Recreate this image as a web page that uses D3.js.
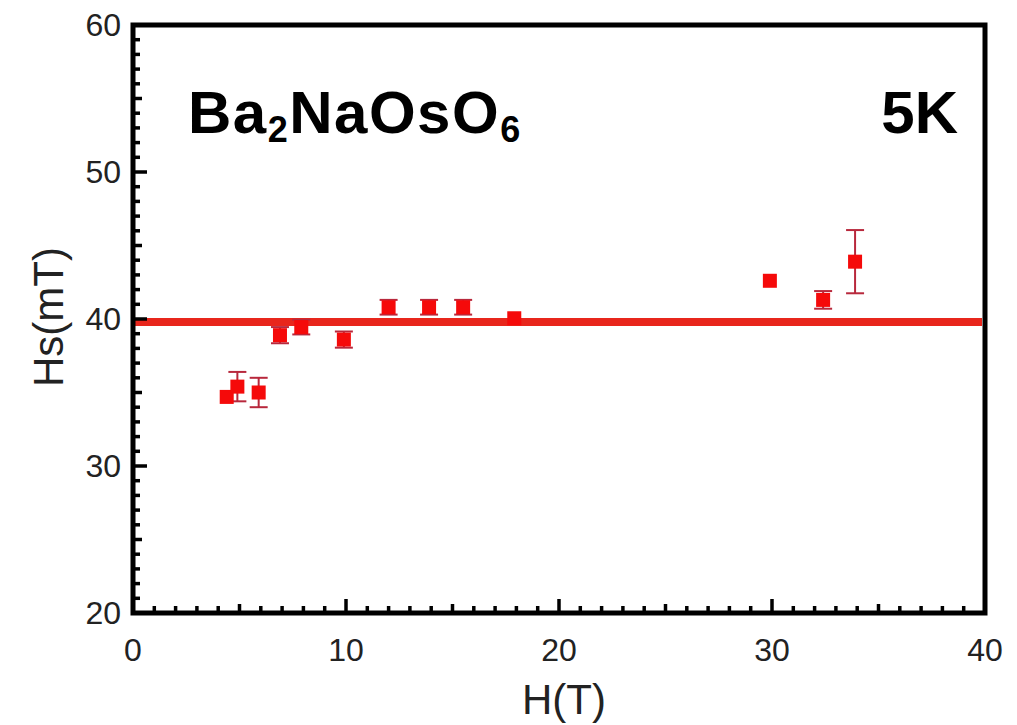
<!DOCTYPE html>
<html>
<head>
<meta charset="utf-8">
<script src="https://cdn.jsdelivr.net/npm/d3@7"></script>
<style>
  body { margin: 0; background: #fff; }
  text { font-family: "Liberation Sans", Arial, Helvetica, sans-serif; }
</style>
</head>
<body>
<div id="chart"></div>
<script>
(function(){

  var width = 1017;
  var height = 725;

  // data
  var fieldT = [4.4, 4.9, 5.9, 6.9, 7.9, 9.9, 12.0, 13.9, 15.5, 17.9, 29.9, 32.4, 33.9];
  var hsMT   = [34.7, 35.4, 35.0, 38.9, 39.45, 38.6, 40.8, 40.8, 40.8, 40.05, 42.6, 41.3, 43.9];
  var hsErr  = [0, 1.0, 1.0, 0.55, 0.5, 0.55, 0.5, 0.5, 0.5, 0, 0, 0.6, 2.15];
  var fitValue = 39.8;
  var xTicks = [0, 10, 20, 30, 40];
  var yTicks = [20, 30, 40, 50, 60];

  var left = 133, right = 985, top = 25, bottom = 613;

  var x = d3.scaleLinear().domain([0, 40]).range([left, right]);
  var y = d3.scaleLinear().domain([20, 60]).range([bottom, top]);

  var svg = d3.select('#chart')
              .append('svg')
              .attr('width', width)
              .attr('height', height);

  var points = fieldT.map(function(d, i) {
    return { x: d, y: hsMT[i], e: hsErr[i] };
  });

  // fit line
  svg.append('line')
     .attr('x1', x(0) + 2)
     .attr('x2', x(40) - 3)
     .attr('y1', y(fitValue))
     .attr('y2', y(fitValue))
     .attr('stroke', '#e8261c')
     .attr('stroke-width', 8);

  // error bars
  var errs = svg.append('g')
                .attr('stroke', '#b8283c')
                .attr('stroke-width', 2);
  points.filter(function(d) { return d.e > 0; }).forEach(function(d) {
    errs.append('line')
        .attr('x1', x(d.x)).attr('x2', x(d.x))
        .attr('y1', y(d.y - d.e)).attr('y2', y(d.y + d.e));
    [d.y - d.e, d.y + d.e].forEach(function(v) {
      errs.append('line')
          .attr('x1', x(d.x) - 9).attr('x2', x(d.x) + 9)
          .attr('y1', y(v)).attr('y2', y(v));
    });
  });

  // markers
  svg.selectAll('rect.pt')
     .data(points)
     .enter()
     .append('rect')
     .attr('class', 'pt')
     .attr('x', function(d) { return x(d.x) - 7; })
     .attr('y', function(d) { return y(d.y) - 7; })
     .attr('width', 14)
     .attr('height', 14)
     .attr('fill', '#f50a0a');

  // minor / major ticks
  var ticks = svg.append('g').attr('stroke', '#000').attr('stroke-width', 3.5);
  d3.range(1, 40).forEach(function(v) {
    var len = v % 10 === 0 ? 14 : (v % 5 === 0 ? 9 : 7);
    ticks.append('line')
         .attr('x1', x(v)).attr('x2', x(v))
         .attr('y1', bottom).attr('y2', bottom - len);
  });
  d3.range(21, 60).forEach(function(v) {
    var len = v % 10 === 0 ? 14 : (v % 5 === 0 ? 9 : 7);
    ticks.append('line')
         .attr('x1', left).attr('x2', left + len)
         .attr('y1', y(v)).attr('y2', y(v));
  });

  // frame
  svg.append('rect')
     .attr('x', left)
     .attr('y', top)
     .attr('width', right - left)
     .attr('height', bottom - top)
     .attr('fill', 'none')
     .attr('stroke', '#000')
     .attr('stroke-width', 5);

  // tick labels
  svg.selectAll('text.xt')
     .data(xTicks)
     .enter()
     .append('text')
     .attr('class', 'xt')
     .attr('x', function(d) { return x(d); })
     .attr('y', 661)
     .attr('text-anchor', 'middle')
     .attr('font-size', '32px')
     .attr('fill', '#222')
     .text(function(d) { return d; });

  svg.selectAll('text.yt')
     .data(yTicks)
     .enter()
     .append('text')
     .attr('class', 'yt')
     .attr('x', 121)
     .attr('y', function(d) { return y(d) + 11; })
     .attr('text-anchor', 'end')
     .attr('font-size', '32px')
     .attr('fill', '#222')
     .text(function(d) { return d; });

  // axis titles
  svg.append('text')
     .attr('x', 564)
     .attr('y', 714)
     .attr('text-anchor', 'middle')
     .attr('font-size', '42px')
     .attr('fill', '#222')
     .text('H(T)');

  svg.append('text')
     .attr('transform', 'translate(63,317) rotate(-90)')
     .attr('text-anchor', 'middle')
     .attr('font-size', '42px')
     .attr('fill', '#222')
     .text('Hs(mT)');

  // annotations
  var title = svg.append('text')
                 .attr('x', 188)
                 .attr('y', 133)
                 .attr('font-size', '60px')
                 .attr('font-weight', 'bold')
                 .attr('letter-spacing', '1.5px');
  [['Ba', false], ['2', true], ['NaOsO', false], ['6', true]].forEach(function(p) {
    var t = title.append('tspan').text(p[0]);
    if (p[1]) t.attr('font-size', '36px').attr('dy', 9);
    else t.attr('dy', title.selectAll('tspan').size() > 1 ? -9 : 0);
  });

  svg.append('text')
     .attr('x', 958)
     .attr('y', 133)
     .attr('text-anchor', 'end')
     .attr('font-size', '60px')
     .attr('font-weight', 'bold')
     .text('5K');

})();
</script>
</body>
</html>
